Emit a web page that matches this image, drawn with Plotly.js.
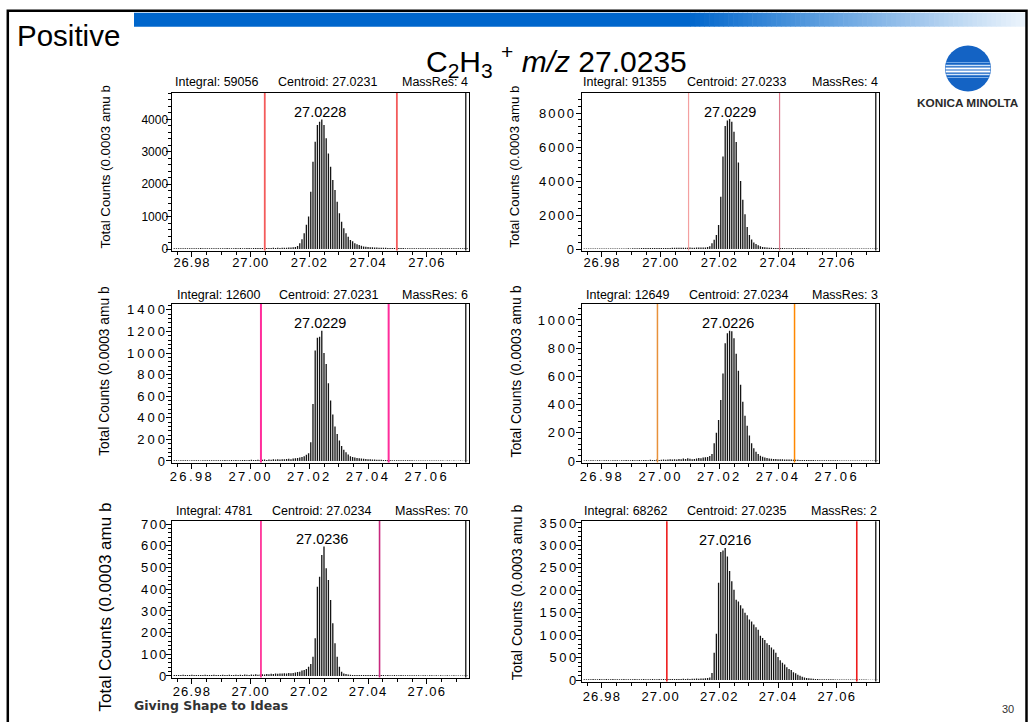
<!DOCTYPE html>
<html><head><meta charset="utf-8">
<script src="https://cdn.plot.ly/plotly-3.0.1.min.js"></script>
<style>
html,body{margin:0;padding:0;background:#fff;}
#chart{width:1034px;height:722px;}
.xtick text,.x2tick text{letter-spacing:0.9px;}
.x3tick text,.x4tick text{letter-spacing:2.4px;}
.x5tick text,.x6tick text{letter-spacing:1.2px;}
.ytick text{letter-spacing:0px;}
.y2tick text{letter-spacing:2px;}
.y3tick text{letter-spacing:3px;}
.y4tick text{letter-spacing:2.8px;}
.y5tick text{letter-spacing:1.7px;}
.y6tick text{letter-spacing:2.6px;}
</style></head><body><div id="chart"></div>
<script>
// ---------------- DATA ----------------
const binStart = 26.9736;   // m/z of first bin's left edge
const binWidth = 0.00075;   // m/z per bin
const xTickVals = [26.98, 27.00, 27.02, 27.04, 27.06];
const xTickText = ['26.98', '27.00', '27.02', '27.04', '27.06'];

const p1Counts = [22,25,24,26,23,25,27,24,26,25,23,26,28,25,24,27,25,26,24,25,
 26,24,27,25,28,26,25,27,29,26,28,27,26,29,28,27,30,28,29,31,
 30,33,31,35,32,36,34,38,35,40,37,42,45,48,52,60,
 90,176,300,485,750,1000,1770,2690,3310,3830,3930,4000,3830,3415,2950,2540,2130,1820,1460,1100,840,640,485,380,280,240,180,150,120,100,80,72,65,58,52,
 48,45,42,40,38,36,35,33,32,30,30,29,28,28,27,27,26,26,25,25,25,24,24,25,23,24,23,22,24,23,22,23,21,22,23,21,22,21,20,22,21,20,21];
const p2Counts = [30,32,28,35,30,33,31,29,34,32,30,35,33,31,36,34,32,37,35,33,
 38,36,40,42,45,48,52,55,58,60,62,58,60,63,61,65,62,60,64,66,
 68,70,72,75,70,78,80,76,82,78,80,84,82,86,90,
 95,115,160,336,550,825,1415,3080,5440,7250,7560,7650,7500,6900,6300,5100,4000,2900,2050,1300,825,560,380,300,220,160,
 125,105,90,80,72,66,62,58,55,52,50,48,46,45,44,42,41,40,40,39,38,38,37,37,36,36,35,35,34,34,33,33,33,32,32,32,31,31,31,30,30,30,30,29,29,29,29,28,28,28,28,28,27];
const p3Counts = [6,7,5,8,6,7,6,5,7,8,6,7,5,6,8,7,6,7,8,6,
 7,8,6,9,7,8,10,8,9,7,8,9,10,8,9,11,9,10,12,10,
 11,13,10,14,12,15,13,16,14,17,15,18,20,16,22,25,
 28,32,38,45,58,71,173,528,1023,1143,1152,1208,1000,900,720,560,430,320,250,190,140,105,80,60,45,38,32,28,25,22,20,18,17,15,14,
 13,12,12,11,10,10,9,9,8,8,8,7,7,7,6,6,6,6,5,5,5,5,5,4,4,5,4,4,4,5,4,4,3,4,4,3,4,3,3,4,3,3,3];
const p4Counts = [4,5,4,6,5,4,5,6,4,5,5,6,4,5,6,5,4,6,5,7,
 5,6,7,5,6,8,6,7,8,6,9,7,8,10,8,9,11,9,10,12,
 10,13,11,15,12,18,14,20,16,13,15,18,22,20,24,26,28,
 36,50,125,200,290,433,620,835,905,924,920,870,760,640,540,420,320,250,180,125,90,66,50,38,30,25,21,18,16,15,14,13,12,12,
 11,11,10,10,9,9,9,8,8,8,7,7,7,7,6,6,6,6,6,5,5,5,5,5,5,4,4,4,4,4,4,4,4,3,4,3,3,4,3,3,3,3,3];
const p5Counts = [4,5,4,5,6,4,5,4,6,5,4,5,5,4,6,5,4,5,6,5,
 5,4,6,5,5,6,4,5,6,5,6,5,7,6,5,7,6,8,6,7,
 8,7,9,8,10,9,11,10,12,11,13,12,14,13,14,
 16,18,20,25,28,32,43,55,89,174,412,458,558,597,497,443,351,243,151,89,43,20,12,9,7,6,
 5,5,5,4,5,4,4,5,4,4,4,4,3,4,4,3,4,3,3,4,3,3,4,3,3,3,3,3,3,3,3,2,3,3,2,3,3,2,3,2,3,2,2,3,2,2,3,2,2,2,2,2,2];
const p6Counts = [18,20,22,19,25,21,20,23,19,22,24,20,21,23,20,22,19,21,23,20,
 22,20,21,23,19,22,20,24,21,22,20,23,21,22,24,21,23,22,25,23,
 24,26,23,27,25,28,26,30,27,32,29,34,31,36,38,40,45,
 60,160,607,1032,2171,2854,2884,2945,2755,2429,2201,2011,1791,1753,1670,1594,1503,1442,1351,1305,1237,1180,1123,987,940,896,820,782,729,683,607,516,440,387,349,288,250,228,175,152,121,99,76,61,46,42,38,30,26,
 24,22,21,20,19,18,18,17,16,16,15,15,14,14,13,13,13,12,12,12,11,11,11,10,10,10,10,9];

const integrals = ['59056', '91355', '12600', '12649', '4781', '68262'];
const centroids = ['27.0231', '27.0233', '27.0231', '27.0234', '27.0234', '27.0235'];
const massRes = ['4', '4', '6', '3', '70', '2'];
const peakLabels = ['27.0228', '27.0229', '27.0229', '27.0226', '27.0236', '27.0216'];
const windowLow = [27.0048, 27.0095, 27.0035, 26.9989, 27.0035, 27.0021];
const windowHigh = [27.0498, 27.0405, 27.0470, 27.0456, 27.0439, 27.0668];
const yTitle = 'Total Counts (0.0003 amu b';
const slideTitle = 'C<sub>2</sub>H<sub>3</sub> <sup>+</sup> <i>m/z</i> 27.0235';

// ---------------- LAYOUT / STYLE ----------------
const W = 1034, H = 722;
const PX = v => v / W, PY = v => 1 - v / H;
const FONT = 'Liberation Sans, Arial, Helvetica, sans-serif';
const allCounts = [p1Counts, p2Counts, p3Counts, p4Counts, p5Counts, p6Counts];
const frames = [[172, 468.5, 93, 250.5], [582, 878.5, 93, 250.5],
                [172, 468.5, 304, 462.5], [582, 878.5, 304, 462.5],
                [172, 468.5, 521, 677.5], [582, 878.5, 521.3, 681.6]];
const yRanges = [[-46, 4815], [-88, 9186], [-14, 1455], [-10.6, 1113], [-7, 715], [-33, 3537]];
const yDtick = [1000, 2000, 200, 200, 100, 500];
const yMinor = [200, 400, 40, 40, 20, 100];
const yTickSize = [12, 13, 13, 13, 13, 13];
const yStandoff = [-5, -3, -5, -5, -5, -6];
const xStandoff = [-6, -6, -4, -4, -4, -3];
const lineColorsLow = ['#f35b5b', '#f4a0a0', '#ff2d9b', '#e8913a', '#ff1a8c', '#ee1c1c'];
const lineColorsHigh = ['#f35b5b', '#dc7a8c', '#ff2d9b', '#ff8800', '#c8287e', '#ee1c1c'];
const lineWidths = [1.8, 1.2, 2, 1.5, 1.6, 1.6];
const titleX = [105, 515, 105, 515, 105.8, 517];
const titleY = [167.5, 166.7, 370.8, 371.5, 606.7, 592.2];
const titleSize = [13.3, 13.2, 13.8, 14, 17, 14.3];
const topY = [82, 82, 295, 295, 510.7, 511.1];
const integralX = [174, 582, 176, 585, 175, 582.8];
const centroidX = [277, 686, 277.7, 687.7, 270.7, 686.3];
const massRight = [469, 879, 469, 879, 469, 878.2];
const peakX = [320, 730, 320, 728, 321.7, 724.8];
const peakY = [111.7, 112, 322.7, 323, 539, 540];

const data = [];
const layout = {
  width: W, height: H, margin: {l: 0, r: 0, t: 0, b: 0},
  paper_bgcolor: '#fff', plot_bgcolor: '#fff', showlegend: false,
  font: {family: FONT, color: '#000'},
  shapes: [], annotations: []
};

allCounts.forEach((counts, i) => {
  const n = i + 1, sx = n === 1 ? '' : String(n);
  const centers = counts.map((_, k) => binStart + (k + 0.5) * binWidth);
  data.push({type: 'bar', x: centers, y: counts, width: 0.00045,
    marker: {color: '#151515', line: {width: 0}}, xaxis: 'x' + sx, yaxis: 'y' + sx,
    hoverinfo: 'skip'});
  const f = frames[i];
  const common = {showline: true, linecolor: '#000', linewidth: 1.5, mirror: true,
    showgrid: false, zeroline: false, ticks: 'outside', ticklen: 5, tickwidth: 1,
    tickcolor: '#000', fixedrange: true};
  layout['xaxis' + sx] = Object.assign({}, common, {
    domain: [PX(f[0]), PX(f[1])], anchor: 'y' + sx, range: [26.9732, 27.0742],
    tickvals: xTickVals, ticktext: xTickText, tickfont: {size: 13, family: FONT, color: '#000'},
    ticklabelstandoff: xStandoff[i],
    minor: {dtick: 0.005, tick0: 26.98, ticks: 'outside', ticklen: 3, tickcolor: '#000', showgrid: false}
  });
  layout['yaxis' + sx] = Object.assign({}, common, {
    domain: [PY(f[3]), PY(f[2])], anchor: 'x' + sx, range: yRanges[i],
    tick0: 0, dtick: yDtick[i], tickfont: {size: yTickSize[i], family: FONT, color: '#000'},
    ticklabelstandoff: yStandoff[i],
    minor: {dtick: yMinor[i], tick0: 0, ticks: 'outside', ticklen: 3, tickcolor: '#000', showgrid: false}
  });
  // inner line of doubled right frame edge
  layout.shapes.push({type: 'line', xref: 'paper', yref: 'paper', x0: PX(f[1] - 2.7), x1: PX(f[1] - 2.7),
    y0: PY(f[3]), y1: PY(f[2]), line: {color: '#000', width: 1.2}});
  // integration window lines
  [[windowLow[i], lineColorsLow[i]], [windowHigh[i], lineColorsHigh[i]]].forEach(([xv, c]) => {
    layout.shapes.push({type: 'line', xref: 'x' + sx, yref: 'y' + sx + ' domain', x0: xv, x1: xv,
      y0: 0, y1: 1, line: {color: c, width: lineWidths[i]}});
  });
  const ann = (x, y, text, opts) => layout.annotations.push(Object.assign({
    xref: 'paper', yref: 'paper', x: PX(x), y: PY(y), text: text, showarrow: false,
    font: {family: FONT, size: 12.5, color: '#000'}, xanchor: 'left', yanchor: 'middle', borderpad: 0}, opts || {}));
  ann(titleX[i], titleY[i], yTitle, {textangle: -90, xanchor: 'center', font: {family: FONT, size: titleSize[i], color: '#000'}});
  ann(integralX[i], topY[i], 'Integral: ' + integrals[i]);
  ann(centroidX[i], topY[i], 'Centroid: ' + centroids[i]);
  ann(massRight[i], topY[i], 'MassRes: ' + massRes[i], {xanchor: 'right'});
  ann(peakX[i], peakY[i], peakLabels[i], {xanchor: 'center', font: {family: FONT, size: 14.5, color: '#000'}});
});

// slide frame
layout.shapes.push({type: 'rect', xref: 'paper', yref: 'paper', x0: PX(7.8), x1: PX(1026.5), y0: PY(740), y1: PY(10.7),
  line: {color: '#000', width: 2.5}, fillcolor: 'rgba(0,0,0,0)', layer: 'above'});
// header bar gradient
const gStart = 134, gSolid = 690, gEnd = 1025;
layout.shapes.push({type: 'rect', xref: 'paper', yref: 'paper', x0: PX(gStart), x1: PX(gSolid + 0.5), y0: PY(26.7), y1: PY(12.7),
  line: {width: 0}, fillcolor: 'rgb(0,102,204)', layer: 'below'});
const nSeg = 70;
for (let s = 0; s < nSeg; s++) {
  const t = (s + 0.5) / nSeg;
  const r = Math.round(0 + t * 236), g = Math.round(102 + t * 142), b = Math.round(204 + t * 48);
  const a = gSolid + (gEnd - gSolid) * s / nSeg, e = gSolid + (gEnd - gSolid) * (s + 1) / nSeg + 0.6;
  layout.shapes.push({type: 'rect', xref: 'paper', yref: 'paper', x0: PX(a), x1: PX(e), y0: PY(26.7), y1: PY(12.7),
    line: {width: 0}, fillcolor: `rgb(${r},${g},${b})`, layer: 'below'});
}
// logo globe
const lcx = 968, lcy = 68.5, lr = 23;
layout.shapes.push({type: 'circle', xref: 'paper', yref: 'paper', x0: PX(lcx - lr), x1: PX(lcx + lr), y0: PY(lcy + lr), y1: PY(lcy - lr),
  line: {width: 0}, fillcolor: '#1463c4'});
[[-6, 1.2, '#6fa6e6'], [-3, 1.6, '#cfe2f7'], [0, 2.2, '#ffffff'], [3, 1.8, '#ffffff'], [6, 1.4, '#d6e6f8'], [9, 1.0, '#7fb0e8']].forEach(([dy, w, c]) => {
  const hw = Math.sqrt(lr * lr - dy * dy) - 0.5;
  layout.shapes.push({type: 'line', xref: 'paper', yref: 'paper', x0: PX(lcx - hw), x1: PX(lcx + hw), y0: PY(lcy + dy), y1: PY(lcy + dy),
    line: {color: c, width: w}});
});
const sann = (x, y, text, opts) => layout.annotations.push(Object.assign({
  xref: 'paper', yref: 'paper', x: PX(x), y: PY(y), text: text, showarrow: false,
  xanchor: 'left', yanchor: 'middle', borderpad: 0}, opts));
sann(968, 102.7, 'KONICA MINOLTA', {xanchor: 'center', font: {family: FONT, size: 11.8, color: '#2a2a2a', weight: 'bold'}});
sann(16, 35.5, 'Positive', {font: {family: FONT, size: 29.5, color: '#000'}});
sann(556, 60.5, slideTitle, {xanchor: 'center', font: {family: FONT, size: 30, color: '#000'}});
sann(133, 705, 'Giving Shape to Ideas', {font: {family: 'DejaVu Sans, sans-serif', size: 12.5, color: '#333', weight: 'bold'}});
sann(1008, 709, '30', {xanchor: 'center', font: {family: FONT, size: 11, color: '#333'}});

Plotly.newPlot('chart', data, layout, {staticPlot: true, displayModeBar: false});
</script></body></html>
